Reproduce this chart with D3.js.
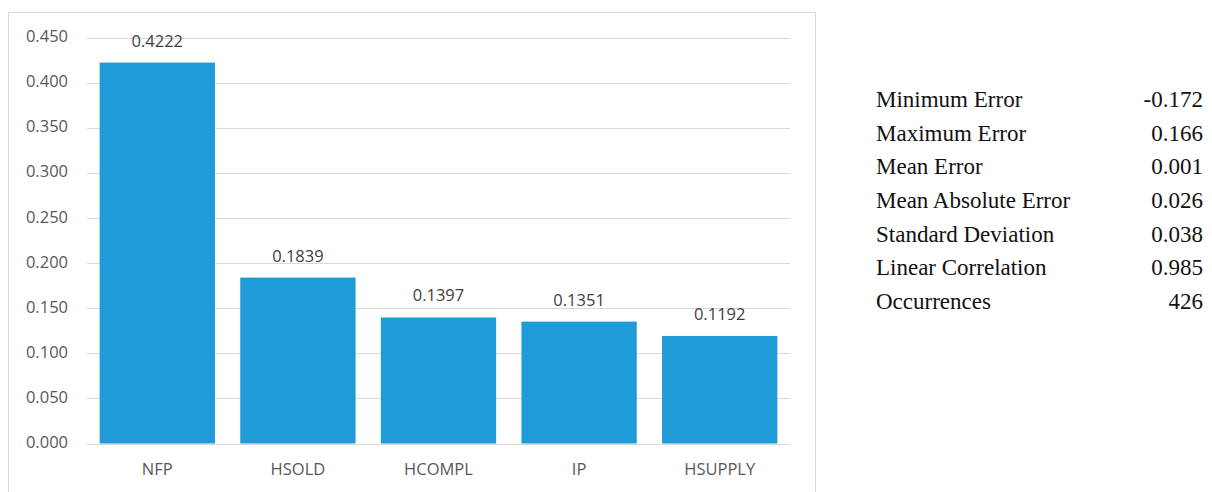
<!DOCTYPE html>
<html>
<head>
<meta charset="utf-8">
<script src="https://cdn.jsdelivr.net/npm/d3@7"></script>
<style>
  html, body { margin: 0; padding: 0; background: #fff; }
  svg { display: block; }
</style>
</head>
<body>
<svg id="chart" width="1212" height="492"></svg>
<script>
// Relative importance of each indicator
const categories = ["NFP", "HSOLD", "HCOMPL", "IP", "HSUPPLY"];
const importance = [0.4222, 0.1839, 0.1397, 0.1351, 0.1192];
const yTicks = [0, 0.05, 0.1, 0.15, 0.2, 0.25, 0.3, 0.35, 0.4, 0.45];

// Error statistics table
const statNames = ["Minimum Error", "Maximum Error", "Mean Error", "Mean Absolute Error",
                   "Standard Deviation", "Linear Correlation", "Occurrences"];
const statValues = ["-0.172", "0.166", "0.001", "0.026", "0.038", "0.985", "426"];

const svg = d3.select("#chart");

// chart frame
svg.append("rect")
  .attr("x", 8.5).attr("y", 12.5)
  .attr("width", 807).attr("height", 490)
  .attr("fill", "#fff").attr("stroke", "#d9d9d9").attr("stroke-width", 1);

const plot = { left: 87, right: 790, top: 37.5, bottom: 443.5 };

const x = d3.scaleBand()
  .domain(categories)
  .range([plot.left, plot.right])
  .paddingInner(0.18)
  .paddingOuter(0.09);

const y = d3.scaleLinear()
  .domain([0, 0.45])
  .range([plot.bottom, plot.top]);

const sans = "'Open Sans', sans-serif";

// gridlines
svg.append("g")
  .selectAll("line")
  .data(yTicks)
  .join("line")
  .attr("x1", plot.left).attr("x2", plot.right)
  .attr("y1", d => Math.round(y(d)) + 0.5)
  .attr("y2", d => Math.round(y(d)) + 0.5)
  .attr("stroke", "#d9d9d9").attr("stroke-width", 1);

// y axis labels
const yAxis = d3.axisLeft(y).tickValues(yTicks).tickFormat(d3.format(".3f")).tickSize(0).tickPadding(0);
const yg = svg.append("g").attr("transform", `translate(68,0)`).call(yAxis);
yg.select(".domain").remove();
yg.selectAll("text")
  .attr("dy", "0.25em")
  .attr("font-family", sans)
  .attr("font-size", 16.5)
  .attr("fill", "#595959");

// bars
svg.append("g")
  .selectAll("rect")
  .data(importance)
  .join("rect")
  .attr("x", (d, i) => x(categories[i]))
  .attr("width", x.bandwidth())
  .attr("y", d => y(d))
  .attr("height", d => y(0) - y(d))
  .attr("fill", "#1f9bd7");

// value labels
svg.append("g")
  .selectAll("text")
  .data(importance)
  .join("text")
  .attr("x", (d, i) => x(categories[i]) + x.bandwidth() / 2)
  .attr("y", d => y(d) - 16)
  .attr("text-anchor", "middle")
  .attr("font-family", sans)
  .attr("font-size", 16.5)
  .attr("fill", "#404040")
  .text(d => d.toFixed(4));

// x axis labels
const xAxis = d3.axisBottom(x).tickSize(0).tickPadding(0);
const xg = svg.append("g").attr("transform", `translate(0,${plot.bottom + 31.5})`).call(xAxis);
xg.select(".domain").remove();
xg.selectAll("text")
  .attr("dy", 0)
  .attr("font-family", sans)
  .attr("font-size", 16.5)
  .attr("fill", "#595959");

// statistics table
const rowY = d3.scalePoint().domain(d3.range(statNames.length)).range([107, 309]);
const table = svg.append("g")
  .attr("font-family", "'Liberation Serif', 'Times New Roman', serif")
  .attr("font-size", 23)
  .attr("fill", "#111");

table.selectAll("text.name")
  .data(statNames)
  .join("text")
  .attr("class", "name")
  .attr("x", 876)
  .attr("y", (d, i) => rowY(i))
  .text(d => d);

table.selectAll("text.value")
  .data(statValues)
  .join("text")
  .attr("class", "value")
  .attr("x", 1203)
  .attr("y", (d, i) => rowY(i))
  .attr("text-anchor", "end")
  .text(d => d);
</script>
</body>
</html>
